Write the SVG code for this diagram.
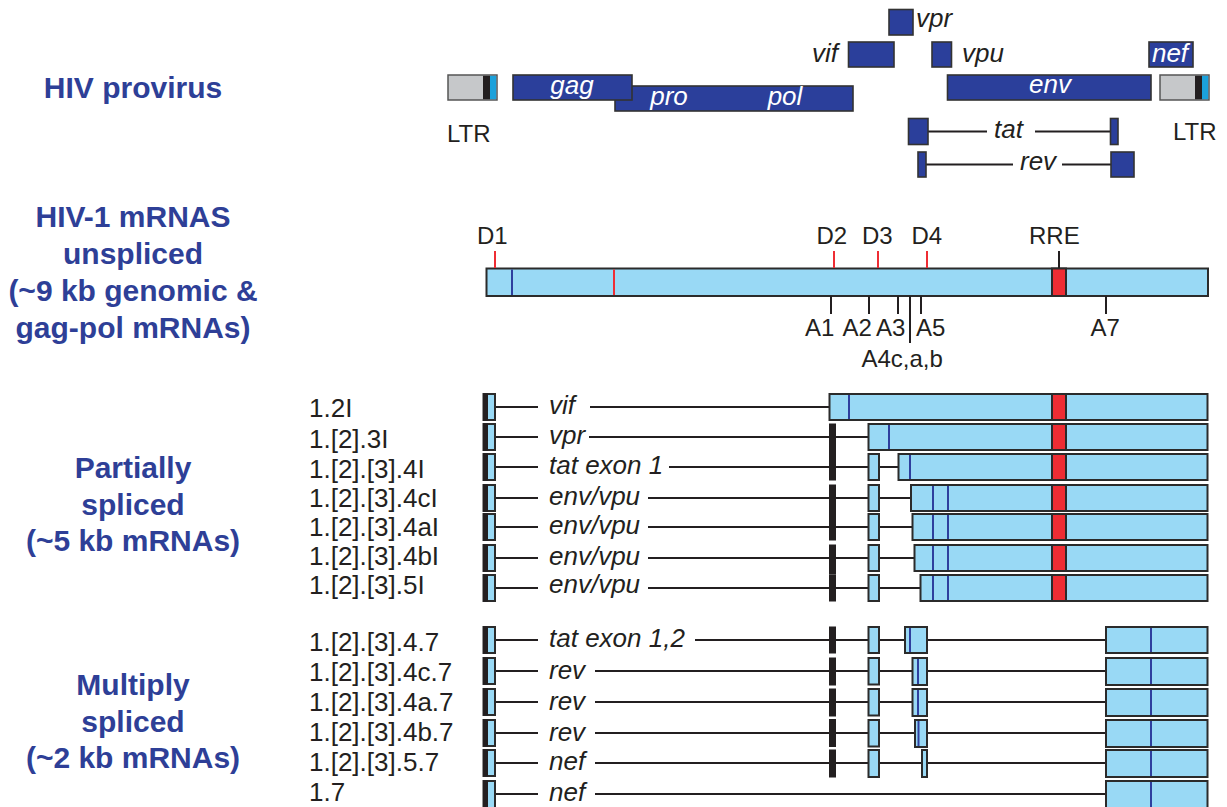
<svg xmlns="http://www.w3.org/2000/svg" width="1227" height="807" viewBox="0 0 1227 807">
<style>
text{font-family:"Liberation Sans",Arial,Helvetica,sans-serif;fill:#231f20}
.lbl{font-weight:bold;font-size:30px;fill:#2E3F97;text-anchor:middle}
.rl{font-size:26px}
.sm{font-size:24px}
.it{font-style:italic;font-size:26px}
.wit{font-style:italic;font-size:26px;fill:#ffffff;text-anchor:middle}
.gene{fill:#2B3F9B;stroke:#333;stroke-width:1.6}
.ltr{fill:#C6C8CA;stroke:#555;stroke-width:1.5}
.ex{fill:#99D9F5;stroke:#2b2b2b;stroke-width:2}
.rre{fill:#EE2D34;stroke:#2b2b2b;stroke-width:2}
.bar{fill:#231f20}
.bl{stroke:#2E3F9E;stroke-width:2}
.ln{stroke:#231f20;stroke-width:2;fill:none}
.rtk{stroke:#EE2D34;stroke-width:2}
</style>

<g id="labels">
<text class="lbl" x="133" y="98">HIV provirus</text>
<text class="lbl" x="133" y="227">HIV-1 mRNAS</text>
<text class="lbl" x="133" y="263.5">unspliced</text>
<text class="lbl" x="133" y="300.5">(~9 kb genomic &amp;</text>
<text class="lbl" x="133" y="338">gag-pol mRNAs)</text>
<text class="lbl" x="133" y="478">Partially</text>
<text class="lbl" x="133" y="515">spliced</text>
<text class="lbl" x="133" y="551">(~5 kb mRNAs)</text>
<text class="lbl" x="133" y="695">Multiply</text>
<text class="lbl" x="133" y="731.5">spliced</text>
<text class="lbl" x="133" y="768">(~2 kb mRNAs)</text>
</g>

<!-- Connectors (intron lines) -->
<g id="connectors">
<!-- provirus tat / rev -->
<path class="ln" d="M928 131.5H987M1035 131.5H1110.5"/>
<path class="ln" d="M926 164.5H1013M1062 164.5H1111"/>
<!-- partial -->
<path class="ln" d="M495 407H538M590 407H829.5"/>
<path class="ln" d="M495 437H538M589 437H829M836 437H868.5"/>
<path class="ln" d="M495 467H538M669 467H829M836 467H868.5M879 467H898.5"/>
<path class="ln" d="M495 498H538M648 498H829M836 498H868.5M879 498H911"/>
<path class="ln" d="M495 527H538M648 527H829M836 527H868.5M879 527H912.5"/>
<path class="ln" d="M495 558H538M648 558H829M836 558H868.5M879 558H914.5"/>
<path class="ln" d="M495 588H538M648 588H829M836 588H868.5M879 588H920.5"/>
<!-- multiply -->
<path class="ln" d="M495 640H538M695 640H829M836 640H868.5M879 640H905M927 640H1106"/>
<path class="ln" d="M495 671H538M595 671H829M836 671H868.5M879 671H912.5M927 671H1106"/>
<path class="ln" d="M495 702H538M595 702H829M836 702H868.5M879 702H912.5M927 702H1106"/>
<path class="ln" d="M495 733H538M595 733H829M836 733H868.5M879 733H915M927 733H1106"/>
<path class="ln" d="M495 763H538M595 763H829M836 763H868.5M879 763H921.5M927 763H1106"/>
<path class="ln" d="M495 794H538M595 794H1106"/>
</g>

<!-- Provirus -->
<g id="ltr-left">
<rect class="ltr" x="448" y="75" width="49" height="25"/>
<rect x="483" y="75.8" width="7" height="23.4" fill="#231f20"/>
<rect x="490" y="75.8" width="6.2" height="23.4" fill="#1BA1DB"/>
<text class="sm" x="447" y="141.5">LTR</text>
</g>
<g id="pro-pol">
<rect class="gene" x="615" y="86" width="238" height="25"/>
<text class="wit" x="669" y="105">pro</text>
<text class="wit" x="785" y="105">pol</text>
</g>
<g id="gag">
<rect class="gene" x="513" y="75" width="119" height="25"/>
<text class="wit" x="572" y="94">gag</text>
</g>
<g id="vif">
<rect class="gene" x="848.5" y="42" width="45.5" height="25"/>
<text class="it" x="812" y="61.5">vif</text>
</g>
<g id="vpr">
<rect class="gene" x="889" y="9.5" width="24" height="25.5"/>
<text class="it" x="916" y="27">vpr</text>
</g>
<g id="vpu">
<rect class="gene" x="932" y="42" width="19.5" height="25"/>
<text class="it" x="962" y="61.5">vpu</text>
</g>
<g id="nef">
<rect class="gene" x="1149" y="42" width="44" height="25"/>
<text class="wit" x="1170" y="62">nef</text>
</g>
<g id="env">
<rect class="gene" x="947.5" y="75" width="203.5" height="25"/>
<text class="wit" x="1050" y="93">env</text>
</g>
<g id="ltr-right">
<rect class="ltr" x="1160" y="75" width="49" height="25"/>
<rect x="1195" y="75.8" width="7" height="23.4" fill="#231f20"/>
<rect x="1202" y="75.8" width="6.2" height="23.4" fill="#1BA1DB"/>
<text class="sm" x="1173" y="140">LTR</text>
</g>
<g id="tat">
<rect class="gene" x="908.5" y="118.5" width="19.5" height="26"/>
<rect class="gene" x="1110.5" y="118.5" width="7.5" height="26"/>
<text class="it" x="994" y="138">tat</text>
</g>
<g id="rev">
<rect class="gene" x="918" y="152" width="8" height="25"/>
<rect class="gene" x="1111" y="152" width="23" height="25"/>
<text class="it" x="1020" y="170">rev</text>
</g>

<!-- Unspliced -->
<g id="unspliced">
<rect class="ex" x="486.5" y="268.5" width="721.5" height="27.5"/>
<line class="bl" x1="512" y1="269.5" x2="512" y2="295"/>
<line class="rtk" x1="614" y1="269.5" x2="614" y2="295"/>
<rect class="rre" x="1052" y="268.5" width="14" height="27.5"/>
</g>
<g id="sites">
<line class="rtk" x1="495" y1="251" x2="495" y2="268"/>
<line class="rtk" x1="834" y1="251" x2="834" y2="268"/>
<line class="rtk" x1="878" y1="251" x2="878" y2="268"/>
<line class="rtk" x1="927" y1="251" x2="927" y2="268"/>
<line class="ln" x1="1059" y1="251" x2="1059" y2="268"/>
<line class="ln" x1="831" y1="296" x2="831" y2="314"/>
<line class="ln" x1="869" y1="296" x2="869" y2="314"/>
<line class="ln" x1="898" y1="296" x2="898" y2="314"/>
<line class="ln" x1="910" y1="296" x2="910" y2="343"/>
<line class="ln" x1="921" y1="296" x2="921" y2="314"/>
<line class="ln" x1="1106" y1="296" x2="1106" y2="314"/>
<text class="sm" x="477" y="244">D1</text>
<text class="sm" x="816.5" y="244">D2</text>
<text class="sm" x="862" y="244">D3</text>
<text class="sm" x="911.5" y="244">D4</text>
<text class="sm" x="1029" y="244">RRE</text>
<text class="sm" x="805" y="336">A1</text>
<text class="sm" x="842.5" y="336">A2</text>
<text class="sm" x="876" y="336">A3</text>
<text class="sm" x="916" y="336">A5</text>
<text class="sm" x="1090.5" y="336">A7</text>
<text class="sm" x="861.5" y="367">A4c,a,b</text>
</g>

<!-- Partially spliced rows -->
<g id="r-1.2I">
<text class="rl" x="309" y="417">1.2I</text>
<rect class="ex" x="483.5" y="394" width="11.5" height="26"/><rect class="bar" x="483" y="393.5" width="5" height="27"/>
<text class="it" x="549" y="414">vif</text>
<rect class="ex" x="829.5" y="394" width="378" height="26"/>
<line class="bl" x1="849" y1="395" x2="849" y2="419"/>
<rect class="rre" x="1052" y="394" width="14" height="26"/>
</g>
<g id="r-1.2.3I">
<text class="rl" x="309" y="447.5">1.[2].3I</text>
<rect class="ex" x="483.5" y="424" width="11.5" height="26"/><rect class="bar" x="483" y="423.5" width="5" height="27"/>
<text class="it" x="549" y="444">vpr</text>
<rect class="bar" x="829" y="423.5" width="7" height="30"/>
<rect class="ex" x="868.5" y="424" width="339" height="26"/>
<line class="bl" x1="889" y1="425" x2="889" y2="449"/>
<rect class="rre" x="1052" y="424" width="14" height="26"/>
</g>
<g id="r-1.2.3.4I">
<text class="rl" x="309" y="477.5">1.[2].[3].4I</text>
<rect class="ex" x="483.5" y="454" width="11.5" height="26"/><rect class="bar" x="483" y="453.5" width="5" height="27"/>
<text class="it" x="549" y="474">tat exon 1</text>
<rect class="bar" x="829" y="453" width="7" height="27.5"/>
<rect class="ex" x="868.5" y="454" width="10.5" height="26"/>
<rect class="ex" x="898.5" y="454" width="309" height="26"/>
<line class="bl" x1="910" y1="455" x2="910" y2="479"/>
<rect class="rre" x="1052" y="454" width="14" height="26"/>
</g>
<g id="r-1.2.3.4cI">
<text class="rl" x="309" y="507">1.[2].[3].4cI</text>
<rect class="ex" x="483.5" y="485" width="11.5" height="26"/><rect class="bar" x="483" y="484.5" width="5" height="27"/>
<text class="it" x="549" y="504.5">env/vpu</text>
<rect class="bar" x="829" y="484.5" width="7" height="30"/>
<rect class="ex" x="868.5" y="485" width="10.5" height="26"/>
<rect class="ex" x="911" y="485" width="296.5" height="26"/>
<line class="bl" x1="933" y1="486" x2="933" y2="510"/>
<line class="bl" x1="948" y1="486" x2="948" y2="510"/>
<rect class="rre" x="1052" y="485" width="14" height="26"/>
</g>
<g id="r-1.2.3.4aI">
<text class="rl" x="309" y="535.5">1.[2].[3].4aI</text>
<rect class="ex" x="483.5" y="514" width="11.5" height="26"/><rect class="bar" x="483" y="513.5" width="5" height="27"/>
<text class="it" x="549" y="533.5">env/vpu</text>
<rect class="bar" x="829" y="514" width="7" height="26.5"/>
<rect class="ex" x="868.5" y="514" width="10.5" height="26"/>
<rect class="ex" x="912.5" y="514" width="295" height="26"/>
<line class="bl" x1="933" y1="515" x2="933" y2="539"/>
<line class="bl" x1="948" y1="515" x2="948" y2="539"/>
<rect class="rre" x="1052" y="514" width="14" height="26"/>
</g>
<g id="r-1.2.3.4bI">
<text class="rl" x="309" y="564.5">1.[2].[3].4bI</text>
<rect class="ex" x="483.5" y="545" width="11.5" height="26"/><rect class="bar" x="483" y="544.5" width="5" height="27"/>
<text class="it" x="549" y="564.5">env/vpu</text>
<rect class="bar" x="829" y="544.5" width="7" height="30"/>
<rect class="ex" x="868.5" y="545" width="10.5" height="26"/>
<rect class="ex" x="914.5" y="545" width="293" height="26"/>
<line class="bl" x1="933" y1="546" x2="933" y2="570"/>
<line class="bl" x1="948" y1="546" x2="948" y2="570"/>
<rect class="rre" x="1052" y="545" width="14" height="26"/>
</g>
<g id="r-1.2.3.5I">
<text class="rl" x="309" y="593.5">1.[2].[3].5I</text>
<rect class="ex" x="483.5" y="575" width="11.5" height="26"/><rect class="bar" x="483" y="574.5" width="5" height="27"/>
<text class="it" x="549" y="593">env/vpu</text>
<rect class="bar" x="829" y="574.5" width="7" height="27"/>
<rect class="ex" x="868.5" y="575" width="10.5" height="26"/>
<rect class="ex" x="920.5" y="575" width="287" height="26"/>
<line class="bl" x1="933" y1="576" x2="933" y2="600"/>
<line class="bl" x1="948" y1="576" x2="948" y2="600"/>
<rect class="rre" x="1052" y="575" width="14" height="26"/>
</g>

<!-- Multiply spliced rows -->
<g id="r-1.2.3.4.7">
<text class="rl" x="309" y="651">1.[2].[3].4.7</text>
<rect class="ex" x="483.5" y="627" width="11.5" height="26"/><rect class="bar" x="483" y="626.5" width="5" height="27"/>
<text class="it" x="549" y="647">tat exon 1,2</text>
<rect class="bar" x="829" y="626.5" width="7" height="27"/>
<rect class="ex" x="868.5" y="627" width="10.5" height="26"/>
<rect class="ex" x="905" y="627" width="22" height="26"/>
<line class="bl" x1="910" y1="628" x2="910" y2="652"/>
<rect class="ex" x="1106" y="627" width="101.5" height="26"/>
<line class="bl" x1="1151" y1="628" x2="1151" y2="652"/>
</g>
<g id="r-1.2.3.4c.7">
<text class="rl" x="309" y="680.5">1.[2].[3].4c.7</text>
<rect class="ex" x="483.5" y="658" width="11.5" height="26"/><rect class="bar" x="483" y="657.5" width="5" height="27"/>
<text class="it" x="549" y="678.5">rev</text>
<rect class="bar" x="829" y="657.5" width="7" height="28"/>
<rect class="ex" x="868.5" y="658" width="10.5" height="26.5"/>
<rect class="ex" x="912.5" y="658" width="14.5" height="27"/>
<line class="bl" x1="918" y1="659" x2="918" y2="684"/>
<rect class="ex" x="1106" y="658" width="101.5" height="27"/>
<line class="bl" x1="1151" y1="659" x2="1151" y2="684"/>
</g>
<g id="r-1.2.3.4a.7">
<text class="rl" x="309" y="710.5">1.[2].[3].4a.7</text>
<rect class="ex" x="483.5" y="689" width="11.5" height="26"/><rect class="bar" x="483" y="688.5" width="5" height="27"/>
<text class="it" x="549" y="709.5">rev</text>
<rect class="bar" x="829" y="688.5" width="7" height="28"/>
<rect class="ex" x="868.5" y="689" width="10.5" height="26.5"/>
<rect class="ex" x="912.5" y="689" width="14.5" height="27"/>
<line class="bl" x1="918" y1="690" x2="918" y2="715"/>
<rect class="ex" x="1106" y="689" width="101.5" height="27"/>
<line class="bl" x1="1151" y1="690" x2="1151" y2="715"/>
</g>
<g id="r-1.2.3.4b.7">
<text class="rl" x="309" y="741">1.[2].[3].4b.7</text>
<rect class="ex" x="483.5" y="720" width="11.5" height="26"/><rect class="bar" x="483" y="719.5" width="5" height="27"/>
<text class="it" x="549" y="740.5">rev</text>
<rect class="bar" x="829" y="719" width="7" height="28"/>
<rect class="ex" x="868.5" y="720" width="10.5" height="26.5"/>
<rect class="ex" x="915" y="720" width="12" height="27"/>
<line class="bl" x1="918.5" y1="721" x2="918.5" y2="746"/>
<rect class="ex" x="1106" y="720" width="101.5" height="27"/>
<line class="bl" x1="1151" y1="721" x2="1151" y2="746"/>
</g>
<g id="r-1.2.3.5.7">
<text class="rl" x="309" y="770.5">1.[2].[3].5.7</text>
<rect class="ex" x="483.5" y="750" width="11.5" height="26"/><rect class="bar" x="483" y="749.5" width="5" height="27"/>
<text class="it" x="549" y="770">nef</text>
<rect class="bar" x="829" y="749.5" width="7" height="28"/>
<rect class="ex" x="868.5" y="750" width="10.5" height="27"/>
<rect class="ex" x="922" y="750" width="5" height="27"/>
<rect class="ex" x="1106" y="750" width="101.5" height="27"/>
<line class="bl" x1="1151" y1="751" x2="1151" y2="776"/>
</g>
<g id="r-1.7">
<text class="rl" x="309" y="800.5">1.7</text>
<rect class="ex" x="483.5" y="781" width="11.5" height="30"/><rect class="bar" x="483" y="780.5" width="5" height="30"/>
<text class="it" x="549" y="801">nef</text>
<rect class="ex" x="1106" y="781" width="101.5" height="30"/>
<line class="bl" x1="1151" y1="782" x2="1151" y2="807"/>
</g>
</svg>
